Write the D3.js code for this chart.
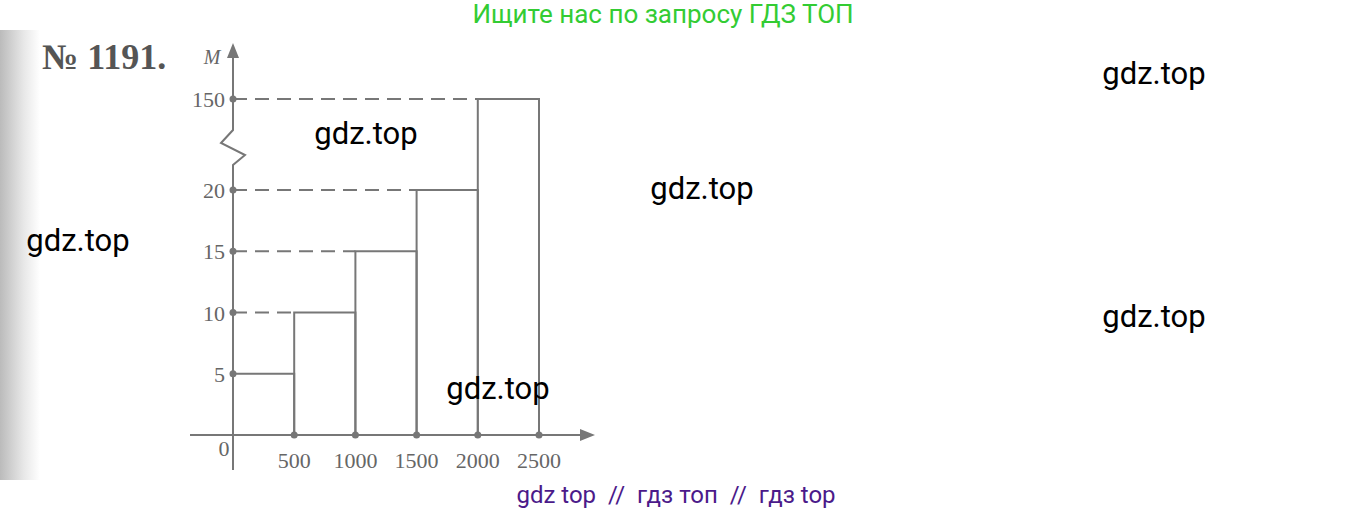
<!DOCTYPE html>
<html><head><meta charset="utf-8">
<script src="https://cdn.jsdelivr.net/npm/d3@7"></script>
<style>body{margin:0;background:#fff} text{white-space:pre}</style></head>
<body><svg id="c" width="1354" height="513"></svg>
<script>
const binStarts = [0, 500, 1000, 1500, 2000];
const binEnds = [500, 1000, 1500, 2000, 2500];
const values = [5, 10, 15, 20, 150];
const xTicks = [500, 1000, 1500, 2000, 2500];
const yTicks = [5, 10, 15, 20, 150];

const svg = d3.select("#c");
const defs = svg.append("defs");
const g = defs.append("linearGradient").attr("id","edge");
g.append("stop").attr("offset","0").attr("stop-color","#bbb");
g.append("stop").attr("offset","0.6").attr("stop-color","#e8e8e8");
g.append("stop").attr("offset","1").attr("stop-color","#fff");
svg.append("rect").attr("x",0).attr("y",30).attr("width",40).attr("height",450).attr("fill","url(#edge)");

const x = d3.scaleLinear().domain([0,2500]).range([233,539]);
const y = d3.scaleLinear().domain([0,20,150]).range([435,190,99]);
const col = "#777";

yTicks.slice(1).forEach(v=>{
  const idx = values.indexOf(v);
  svg.append("line").attr("x1",x(0)).attr("x2",x(binStarts[idx])).attr("y1",y(v)).attr("y2",y(v))
    .attr("stroke",col).attr("stroke-width",2).attr("stroke-dasharray","14,8");
});
svg.selectAll("rect.bar").data(values).enter().append("rect").attr("class","bar")
  .attr("x",(d,i)=>x(binStarts[i])).attr("width",(d,i)=>x(binEnds[i])-x(binStarts[i]))
  .attr("y",d=>y(d)).attr("height",d=>y(0)-y(d))
  .attr("fill","none").attr("stroke",col).attr("stroke-width",2);

svg.append("line").attr("x1",190).attr("x2",585).attr("y1",y(0)).attr("y2",y(0)).attr("stroke",col).attr("stroke-width",2);
svg.append("path").attr("d",`M595,${y(0)} L580,${y(0)-6} L580,${y(0)+6}Z`).attr("fill",col);
const ax = x(0);
svg.append("path").attr("d",`M${ax},470 L${ax},165 L${ax+12},155 L${ax-12},143 L${ax},130 L${ax},55`)
  .attr("fill","none").attr("stroke",col).attr("stroke-width",2);
svg.append("path").attr("d",`M${ax},43 L${ax-6},58 L${ax+6},58Z`).attr("fill",col);

svg.selectAll("circle.yt").data(yTicks).enter().append("circle").attr("cx",ax).attr("cy",d=>y(d)).attr("r",3.5).attr("fill",col);
svg.selectAll("circle.xt").data(xTicks).enter().append("circle").attr("cx",d=>x(d)).attr("cy",y(0)).attr("r",3.5).attr("fill",col);
const serif = "'Liberation Serif','DejaVu Serif',serif";
svg.selectAll("text.yl").data(yTicks).enter().append("text").attr("x",ax-8).attr("y",d=>y(d)+8)
  .attr("text-anchor","end").attr("font-family",serif).attr("font-size",22).attr("fill","#666").text(d=>d);
svg.selectAll("text.xl").data(xTicks).enter().append("text").attr("x",d=>x(d)).attr("y",468)
  .attr("text-anchor","middle").attr("font-family",serif).attr("font-size",22).attr("fill","#666").text(d=>d);
svg.append("text").attr("x",224).attr("y",456).attr("text-anchor","middle").attr("font-family",serif).attr("font-size",22).attr("fill","#666").text("0");
svg.append("text").attr("x",212).attr("y",64).attr("text-anchor","middle").attr("font-family",serif).attr("font-style","italic").attr("font-size",20).attr("fill","#666").text("M");
svg.append("text").attr("x",42).attr("y",69).attr("font-family",serif).attr("font-weight","bold").attr("font-size",36).attr("fill","#555").text("№ 1191.");

svg.append("text").attr("x",663).attr("y",23).attr("text-anchor","middle").attr("font-family","Roboto").attr("font-size",26).attr("fill","#33cc33").text("Ищите нас по запросу ГДЗ ТОП");
svg.append("text").attr("x",676).attr("y",503).attr("text-anchor","middle").attr("font-family","Roboto").attr("font-size",24).attr("fill","#4b1a8a").text("gdz top  //  гдз топ  //  гдз top");
const wm = [[1154,84],[366,144],[702,199],[78,251],[1154,327],[498,399]];
wm.forEach(p=>svg.append("text").attr("x",p[0]).attr("y",p[1]).attr("text-anchor","middle").attr("font-family","Roboto").attr("font-size",31).attr("fill","#000").text("gdz.top"));
</script></body></html>
